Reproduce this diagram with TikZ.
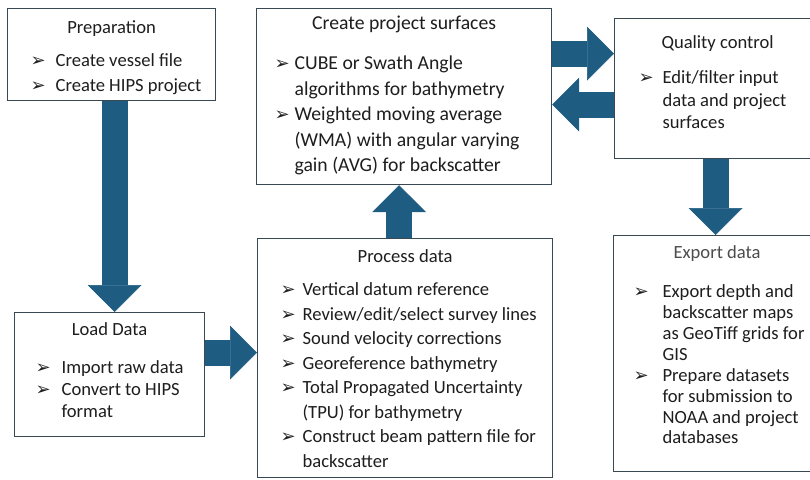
\documentclass[tikz,border=0pt]{standalone}
\usepackage{fontspec}
\setmainfont{Carlito}
\newfontfamily\bulfont{DejaVu Sans}
\usetikzlibrary{arrows.meta}

\definecolor{arrowblue}{RGB}{30,92,130}
\definecolor{boxline}{RGB}{58,72,82}
\definecolor{txt}{RGB}{30,30,30}

\newlength{\itmind}
\newcommand{\bul}{{\bulfont\fontsize{18}{18}\selectfont\raisebox{-0.3pt}{➢}}}
\newcommand{\itm}[1]{\par\hangindent=\itmind\hangafter=1\noindent\hbox to\itmind{\bul\hss}#1}
% width, height, title baseline, title gap, left skip, indent, title, items
\newcommand{\stagebox}[8]{%
  \parbox[c][#2pt][t]{#1pt}{\parskip=0pt\relax
    {\centering\rule{0pt}{#3pt}#7\par}%
    \vspace{\dimexpr#4pt-\baselineskip\relax}%
    \leftskip=#5pt\relax\rightskip=-20pt plus 1fil\relax
    \setlength{\itmind}{#6pt}#8\par}}

\begin{document}
\begin{tikzpicture}[x=1pt, y=-1pt,
    stage/.style={draw=boxline, line width=1.2pt, fill=white, inner sep=0pt,
        anchor=north west, text=txt, font=\fontsize{18.6}{24.5}\selectfont},
    bigarrow/.style={draw=arrowblue, line width=26pt,
        -{Triangle[width=54pt, length=27pt, line width=0.6pt]}}]
    \useasboundingbox (0,0) rectangle (810,479);
    \clip (0,0) rectangle (810,479);

    % Preparation
    \node[stage] (prep) at (7,8) {\stagebox{208}{92}{25}{33}{23}{25}{Preparation}
        {\itm{Create vessel file}\itm{Create HIPS project}}};

    % Create project surfaces
    \node[stage, font=\fontsize{19.7}{25.5}\selectfont] (surf) at (256,8)
        {\stagebox{295}{176}{21}{40}{18}{20}{Create project surfaces}
        {\itm{CUBE or Swath Angle\\algorithms for bathymetry}
         \itm{Weighted moving average\\(WMA) with angular varying\\gain (AVG) for backscatter}}};

    % Quality control
    \node[stage, font=\fontsize{18.6}{22.5}\selectfont] (qc) at (614,18)
        {\stagebox{206}{140}{30}{35}{24}{24}{Quality control}
        {\itm{Edit/filter input\\data and project\\surfaces}}};

    % Load Data
    \node[stage, font=\fontsize{18.6}{22}\selectfont] (load) at (14,312)
        {\stagebox{190}{124}{23}{38}{21}{26}{Load Data}
        {\itm{Import raw data}\itm{Convert to HIPS\\format}}};

    % Process data
    \node[stage] (proc) at (257,238)
        {\stagebox{295}{239}{24}{33}{23}{22}{Process data}
        {\itm{Vertical datum reference}
         \itm{Review/edit/select survey lines}
         \itm{Sound velocity corrections}
         \itm{Georeference bathymetry}
         \itm{Total Propagated Uncertainty\\(TPU) for bathymetry}
         \itm{Construct beam pattern file for\\backscatter}}};

    % Export data
    \node[stage, font=\fontsize{18.6}{20.9}\selectfont] (exp) at (613,235)
        {\stagebox{207}{236}{23}{39}{20}{29}{{\color{black!70}Export data}}
        {\itm{Export depth and\\backscatter maps\\as GeoTiff grids for\\GIS}
         \itm{Prepare datasets\\for submission to\\NOAA and project\\databases}}};

    % block arrows
    \coordinate (prepout) at ([xshift=3pt]prep.south);
    \draw[bigarrow] (prepout) -- (prepout |- load.north);
    \coordinate (loadout) at ([yshift=22pt]load.east);
    \draw[bigarrow] (loadout) -- (loadout -| proc.west);
    \coordinate (procout) at ([xshift=-6pt]proc.north);
    \draw[bigarrow] (procout) -- (procout |- surf.south);
    \coordinate (qcin) at ([yshift=35pt]qc.west);
    \draw[bigarrow] (qcin -| surf.east) -- (qcin);
    \coordinate (qcout) at ([yshift=-16pt]qc.west);
    \draw[bigarrow] (qcout) -- (qcout -| surf.east);
    \coordinate (qcdown) at ([xshift=-2pt]qc.south);
    \draw[bigarrow] (qcdown) -- (qcdown |- exp.north);
\end{tikzpicture}
\end{document}
